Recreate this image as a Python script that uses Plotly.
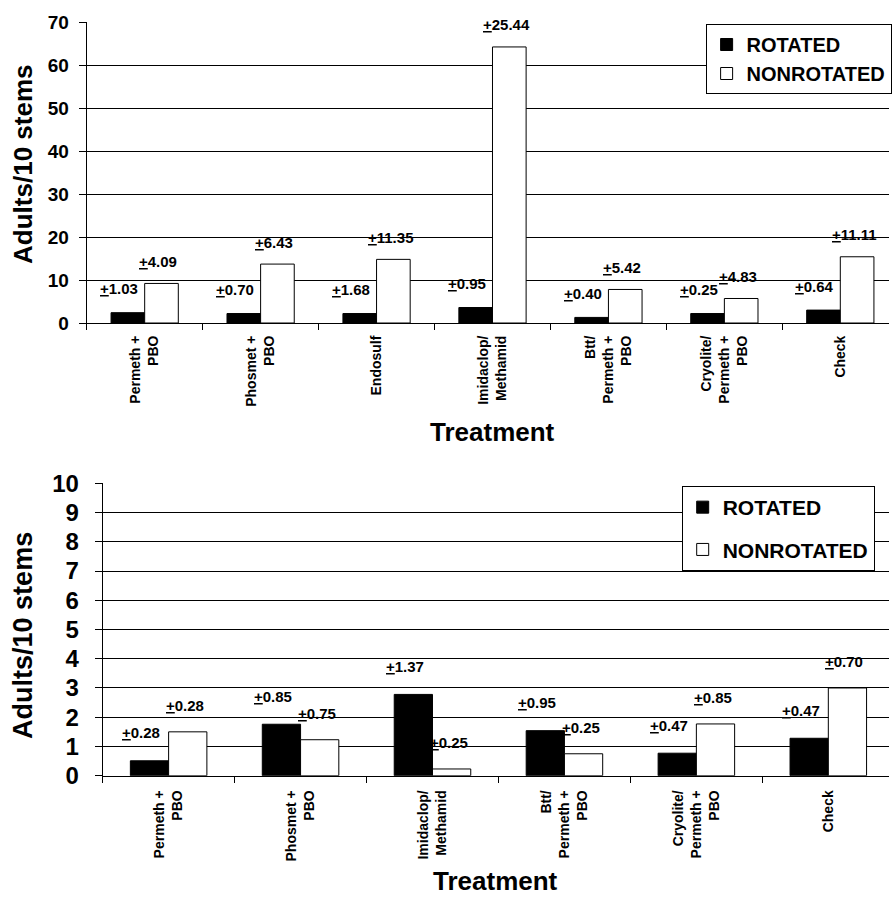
import plotly.graph_objects as go

# ---------------- data ----------------
top_categories = ["Permeth +<br>PBO", "Phosmet +<br>PBO", "Endosulf", "Imidaclop/<br>Methamid",
                  "Btt/<br>Permeth +<br>PBO", "Cryolite/<br>Permeth +<br>PBO", "Check"]
top_rotated = [2.4, 2.2, 2.2, 3.6, 1.3, 2.2, 3.0]
top_nonrotated = [9.2, 13.7, 14.8, 64.2, 7.8, 5.7, 15.4]
top_rotated_se = ["1.03", "0.70", "1.68", "0.95", "0.40", "0.25", "0.64"]
top_nonrotated_se = ["4.09", "6.43", "11.35", "25.44", "5.42", "4.83", "11.11"]

bot_categories = ["Permeth +<br>PBO", "Phosmet +<br>PBO", "Imidaclop/<br>Methamid",
                  "Btt/<br>Permeth +<br>PBO", "Cryolite/<br>Permeth +<br>PBO", "Check"]
bot_rotated = [0.51, 1.76, 2.78, 1.54, 0.77, 1.28]
bot_nonrotated = [1.50, 1.23, 0.23, 0.75, 1.77, 3.0]
bot_rotated_se = ["0.28", "0.85", "1.37", "0.95", "0.47", "0.47"]
bot_nonrotated_se = ["0.28", "0.75", "0.25", "0.25", "0.85", "0.70"]

series_names = ["ROTATED", "NONROTATED"]
y_title = "Adults/10 stems"
x_title = "Treatment"

# ---------------- layout helpers ----------------
W, H = 892, 898
FONT = "Liberation Sans, Arial, sans-serif"
BARGAP = 0.42


def px_x(p):
    return p / W


def px_y(p):
    return (H - p) / H


fig = go.Figure()

fig.add_trace(go.Bar(x=top_categories, y=top_rotated, name=series_names[0],
                     marker=dict(color="black", line=dict(color="black", width=1)),
                     xaxis="x", yaxis="y", legend="legend", legendgroup="a"))
fig.add_trace(go.Bar(x=top_categories, y=top_nonrotated, name=series_names[1],
                     marker=dict(color="white", line=dict(color="black", width=1)),
                     xaxis="x", yaxis="y", legend="legend", legendgroup="b"))
fig.add_trace(go.Bar(x=bot_categories, y=bot_rotated, name=series_names[0],
                     marker=dict(color="black", line=dict(color="black", width=1)),
                     xaxis="x2", yaxis="y2", legend="legend2", legendgroup="c"))
fig.add_trace(go.Bar(x=bot_categories, y=bot_nonrotated, name=series_names[1],
                     marker=dict(color="white", line=dict(color="black", width=1)),
                     xaxis="x2", yaxis="y2", legend="legend2", legendgroup="d"))

annotations = []
half = (1 - BARGAP) / 4.0


def add_se_labels(values, ses, offset, xref, yref, xshift, yshift):
    for i, (v, s) in enumerate(zip(values, ses)):
        annotations.append(dict(
            x=i + offset, y=v, xref=xref, yref=yref,
            text="<u>+</u>" + s, showarrow=False,
            xanchor="center", yanchor="middle", xshift=xshift, yshift=yshift,
            font=dict(family=FONT, size=15, color="black", weight="bold")))


add_se_labels(top_rotated, top_rotated_se, -half, "x", "y", -9, 24)
add_se_labels(top_nonrotated, top_nonrotated_se, half, "x", "y", -3, 22)
add_se_labels(bot_rotated, bot_rotated_se, -half, "x2", "y2", -8, 28)
add_se_labels(bot_nonrotated, bot_nonrotated_se, half, "x2", "y2", -3, 26)

# axis titles
for yc, sz in [(164, 26), (635, 27)]:
    annotations.append(dict(x=px_x(23), y=px_y(yc), xref="paper", yref="paper",
                            text=y_title, textangle=-90, showarrow=False,
                            xanchor="center", yanchor="middle",
                            font=dict(family=FONT, size=sz, color="black", weight="bold")))
for xc, yc in [(494, 432), (497, 881)]:
    annotations.append(dict(x=px_x(xc), y=px_y(yc), xref="paper", yref="paper",
                            text=x_title, showarrow=False,
                            xanchor="center", yanchor="middle",
                            font=dict(family=FONT, size=26, color="black", weight="bold")))

xaxis_common = dict(type="category", showline=True, linecolor="black", linewidth=1,
                    ticks="outside", tickson="boundaries", ticklen=6, tickcolor="black",
                    tickangle=-90, showgrid=False, zeroline=False, automargin=False,
                    tickfont=dict(family=FONT, size=14, color="black", weight="bold"))
yaxis_common = dict(showline=True, linecolor="black", linewidth=1, ticks="outside",
                    ticklen=7, tickcolor="black", showgrid=True, gridcolor="black",
                    gridwidth=1, zeroline=False, automargin=False)

fig.update_layout(
    width=W, height=H, margin=dict(l=0, r=0, t=0, b=0, pad=0), autosize=False,
    paper_bgcolor="white", plot_bgcolor="white",
    barmode="group", bargap=BARGAP, bargroupgap=0,
    showlegend=True,
    xaxis=dict(domain=[px_x(87), 1], anchor="y", range=[-0.5, 6.42],
               ticklabelstandoff=6, **xaxis_common),
    yaxis=dict(domain=[px_y(323), px_y(22)], anchor="x", range=[0, 70], dtick=10,
               ticklabelstandoff=6,
               tickfont=dict(family=FONT, size=19, color="black", weight="bold"),
               **yaxis_common),
    xaxis2=dict(domain=[px_x(103), 1], anchor="y2", range=[-0.5, 5.46],
                ticklabelstandoff=8, **xaxis_common),
    yaxis2=dict(domain=[px_y(775.7), px_y(483.3)], anchor="x2", range=[0, 10], dtick=1,
                ticklabelstandoff=11,
                tickfont=dict(family=FONT, size=24, color="black", weight="bold"),
                **yaxis_common),
    legend=dict(x=px_x(708), y=px_y(24), xanchor="left", yanchor="top",
                bgcolor="white", bordercolor="black", borderwidth=1,
                traceorder="grouped", tracegroupgap=0,
                font=dict(family=FONT, size=20, color="black", weight="bold")),
    legend2=dict(x=px_x(684), y=px_y(486), xanchor="left", yanchor="top",
                 bgcolor="white", bordercolor="black", borderwidth=1,
                 traceorder="grouped", tracegroupgap=12,
                 font=dict(family=FONT, size=21, color="black", weight="bold")),
    annotations=annotations,
)

fig.write_html(
    "out.html",
    config={"responsive": False, "displayModeBar": False},
    post_script="document.body.style.margin='0px';document.body.style.overflow='hidden';",
)
